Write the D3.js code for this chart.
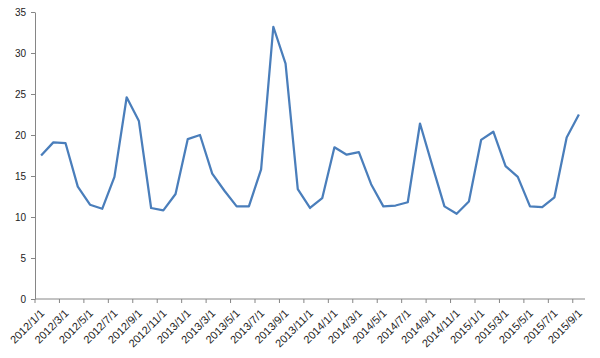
<!DOCTYPE html>
<html>
<head>
<meta charset="utf-8">
<script src="https://cdn.jsdelivr.net/npm/d3@7"></script>
<style>
  body { margin: 0; background: #fff; }
  text { font-family: "Liberation Sans", Arial, sans-serif; font-size: 10px; fill: #222; }
</style>
</head>
<body>
<script>
width = 600
height = 358

// monthly values, 2012/1 .. 2015/9
var months = [];
for (var y = 2012; y <= 2015; y++) {
  for (var m = 1; m <= 12; m++) {
    if (y == 2015 && m > 9) break;
    months.push(y + "/" + m + "/1");
  }
}

var values = [
  17.5, 19.1, 19.0, 13.7, 11.5, 11.0, 14.9, 24.6, 21.7, 11.1, 10.8, 12.8,
  19.5, 20.0, 15.3, 13.2, 11.3, 11.3, 15.8, 33.2, 28.7, 13.4, 11.1, 12.3,
  18.5, 17.6, 17.9, 14.0, 11.3, 11.4, 11.8, 21.4, 16.3, 11.3, 10.4, 11.9,
  19.4, 20.4, 16.2, 14.9, 11.3, 11.2, 12.4, 19.7, 22.5
];

var yTicks = [0, 5, 10, 15, 20, 25, 30, 35];

// every other month gets a tick + label
var tickLabels = months.filter((d, i) => i % 2 == 0);

var margin = {left: 35, right: 15, top: 12, bottom: 59};

const svg = d3.select('body').append('svg')
  .attr('width', width)
  .attr('height', height);

var x = d3.scaleBand()
  .domain(months)
  .range([margin.left, width - margin.right]);

var yScale = d3.scaleLinear()
  .domain([0, 35])
  .range([height - margin.bottom, margin.top]);

// y axis
var yAxis = svg.append("g")
  .attr("transform", "translate(" + margin.left + ",0)")
  .call(d3.axisLeft(yScale).tickValues(yTicks).tickSize(4).tickPadding(5).tickSizeOuter(0));
yAxis.select(".domain").attr("stroke", "#868686");
yAxis.selectAll(".tick line").attr("stroke", "#868686");
yAxis.selectAll("text").style("font-size", "10px");

// x axis - ticks on band edges
var xAxis = svg.append("g")
  .attr("transform", "translate(0," + yScale(0) + ")");
xAxis.append("line")
  .attr("x1", x.range()[0]).attr("x2", x.range()[1])
  .attr("stroke", "#868686");
xAxis.selectAll("line.tk")
  .data(tickLabels)
  .enter().append("line")
    .attr("class", "tk")
    .attr("x1", d => x(d)).attr("x2", d => x(d))
    .attr("y1", 0).attr("y2", 4)
    .attr("stroke", "#868686");
xAxis.selectAll("text")
  .data(tickLabels)
  .enter().append("text")
    .attr("text-anchor", "end")
    .style("font-size", "11px")
    .attr("transform", d => "translate(" + (x(d) + 10) + ",15) rotate(-45)")
    .text(d => d);

// the line
var line = d3.line()
  .x((d, i) => x(months[i]) + x.bandwidth() / 2)
  .y(d => yScale(d));

svg.append("path")
  .datum(values)
  .attr("fill", "none")
  .attr("stroke", "#4A7EBB")
  .attr("stroke-width", 2.25)
  .attr("stroke-linejoin", "round")
  .attr("d", line);
</script>
</body>
</html>
